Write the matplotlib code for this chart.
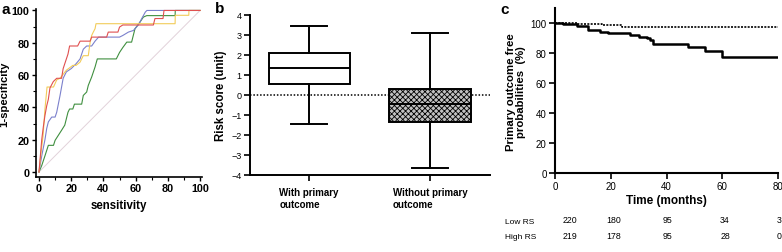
import matplotlib
matplotlib.use('Agg')
import matplotlib.pyplot as plt
from matplotlib.transforms import blended_transform_factory

plt.rcParams['font.family'] = ['Liberation Sans', 'DejaVu Sans']
plt.rcParams['hatch.linewidth'] = 0.6

# --- panel a: ROC curves (x = sensitivity, y = 1-specificity)
red_x = [0, 1.7, 2.7, 3.7, 4.8, 5.8, 6.8, 8.9, 11, 14, 15, 16, 18, 19, 24, 25.5, 31.7, 32.7, 42, 43, 49, 50, 52, 71, 72, 77, 77.6, 100]
red_y = [0, 20, 28, 35, 41, 45, 52, 56, 58, 58, 64, 67, 73, 78, 78, 81, 81, 83.5, 83.5, 86.6, 86.6, 89.7, 91, 91, 95, 95, 100, 100]
yel_x = [0, 1.5, 2.5, 3.7, 5, 9, 11, 13, 17, 21, 23, 25.5, 27.5, 30.6, 31.7, 32.7, 33.7, 34.8, 35.4, 84.5, 84.6, 93, 93.1, 100]
yel_y = [0, 14, 22, 39, 52.6, 52.6, 57, 58, 63, 66, 66, 68, 72, 72, 80, 84.5, 86.6, 88.7, 91.8, 91.8, 97, 97, 100, 100]
blu_x = [0, 1.7, 3.7, 4.8, 5.8, 7.9, 10, 11, 13, 15, 17, 20, 23, 25.5, 27.5, 29.6, 32.7, 34.8, 37, 50, 52, 55.5, 58.6, 61.7, 63.8, 66, 67, 100]
blu_y = [0, 10, 20, 27, 31, 34, 34, 37, 47, 58, 62, 64, 67, 70, 76, 78, 78, 81, 83.5, 83.5, 84.5, 86.6, 87.6, 91, 95, 99, 100, 100]
grn_x = [0, 1.7, 3.7, 5.8, 9, 10, 12, 14, 16, 18, 19, 21, 22, 26.5, 27.5, 29.6, 30.6, 32.7, 34.8, 36.2, 48, 50, 52, 54.5, 57.5, 59.6, 62.7, 64.8, 66.9, 84.5, 84.6, 100]
grn_y = [0, 4, 10, 16.5, 16.5, 19.6, 22.7, 25.8, 29, 37, 39, 39, 42, 42, 47.4, 49.5, 53.6, 58.8, 65, 70, 70, 74, 77, 80.4, 80.4, 88.7, 92.8, 95.9, 96.8, 96.8, 100, 100]

# --- panel b: box plot stats
groups = ['With primary\noutcome', 'Without primary\noutcome']
whislo = [-1.45, -3.67]
q1 = [0.53, -1.37]
med = [1.35, -0.45]
q3 = [2.08, 0.28]
whishi = [3.42, 3.07]

# --- panel c: Kaplan-Meier
low_t = [0, 8, 16.7, 23.9, 80]
low_s = [100, 99.5, 98.8, 97.3, 97.3]
high_t = [0, 3, 7.8, 12, 16, 19, 23, 27, 30, 33, 34, 35.2, 47.8, 53.8, 59.8, 80]
high_s = [100, 99.3, 98.2, 95.5, 94.4, 93.8, 93.3, 92.2, 91.1, 90, 88.9, 86, 84, 81.6, 77.2, 77.2]
risk_times = [5.4, 21.1, 40.5, 61, 79.6]
low_risk = ['220', '180', '95', '34', '3']
high_risk = ['219', '178', '95', '28', '0']

W, H = 782, 253
fig = plt.figure(figsize=(W / 100, H / 100), dpi=100)


def box(l, r, t, b):
    return [l / W, 1 - b / H, (r - l) / W, (b - t) / H]


# ---------------- a
ax = fig.add_axes(box(36, 202, 10, 178))
ax.plot([0, 100], [0, 100], color='#e2d2da', lw=0.7)
ax.plot(grn_x, grn_y, color='#3f8f3f', lw=0.8)
ax.plot(blu_x, blu_y, color='#7b80cc', lw=0.8)
ax.plot(yel_x, yel_y, color='#f2cc5a', lw=0.8)
ax.plot(red_x, red_y, color='#e05050', lw=0.8)
ax.set_xlim(-1.86, 101.2)
ax.set_ylim(-3.1, 100.9)
ax.set_xticks(range(0, 101, 20))
ax.set_yticks(range(0, 101, 20))
ax.set_xticks(range(0, 101, 10), minor=True)
ax.set_yticks(range(0, 101, 10), minor=True)
for s in ['top', 'right']:
    ax.spines[s].set_visible(False)
for s in ['left', 'bottom']:
    ax.spines[s].set_linewidth(1.2)
ax.tick_params(labelsize=7.8, length=3, width=1, pad=1.5)
ax.tick_params(which='minor', length=2, width=0.8)
for lab in ax.get_xticklabels() + ax.get_yticklabels():
    lab.set_fontweight('bold')
ax.set_xlabel('sensitivity', fontsize=8.3, fontweight='bold', labelpad=4)
ax.set_ylabel('1-specificity', fontsize=8.1, fontweight='bold')
ax.yaxis.set_label_coords(-27 / 166, 0.5)
fig.text(2 / W, 1 - 10 / H, 'a', fontsize=11, fontweight='bold', va='center')

# ---------------- b
bx = fig.add_axes(box(250, 490, 15.7, 175.7))
stats = []
for i in range(2):
    stats.append(dict(whislo=whislo[i], q1=q1[i], med=med[i], q3=q3[i], whishi=whishi[i], fliers=[]))
bp = bx.bxp(stats, positions=[1, 2], widths=0.67, patch_artist=True, showfliers=False,
            boxprops=dict(linewidth=1.4, edgecolor='black'),
            medianprops=dict(color='black', linewidth=1.4),
            whiskerprops=dict(linewidth=1.4), capprops=dict(linewidth=1.4),
            capwidths=0.29)
bp['boxes'][0].set_facecolor('white')
bp['boxes'][1].set_facecolor('#c0c0c0')
bp['boxes'][1].set_hatch('xxxxxx')
bx.axhline(0, color='black', ls=(0, (1, 1.2)), lw=1.1, zorder=0)
bx.set_xlim(0.512, 2.496)
bx.set_ylim(-4, 4)
bx.set_yticks(range(-4, 5))
bx.set_xticks([1, 2])
bx.set_xticklabels(groups, fontsize=7, fontweight='bold', multialignment='left')
for s in ['top', 'right']:
    bx.spines[s].set_visible(False)
for s in ['left', 'bottom']:
    bx.spines[s].set_linewidth(1.4)
bx.tick_params(axis='y', labelsize=6.5, length=4, width=1.2, pad=2)
bx.tick_params(axis='x', length=4, width=1.2, pad=5)
bx.set_ylabel('Risk score (unit)', fontsize=8.3, fontweight='bold', labelpad=3)
fig.text(215 / W, 1 - 9 / H, 'b', fontsize=11, fontweight='bold', va='center')

# ---------------- c
cx = fig.add_axes(box(555, 778, 9.3, 174))
cx.step(low_t, low_s, where='post', color='black', lw=1.2, ls=(0, (1.2, 0.8)))
cx.step(high_t, high_s, where='post', color='black', lw=1.8)
cx.set_xlim(0, 80)
cx.set_ylim(0, 110)
cx.set_xticks(range(0, 81, 20))
cx.set_yticks(range(0, 101, 20))
for s in ['top', 'right']:
    cx.spines[s].set_visible(False)
for s in ['left', 'bottom']:
    cx.spines[s].set_linewidth(1.5)
cx.tick_params(labelsize=7, length=4, width=1.2, pad=2)
cx.set_xlabel('Time (months)', fontsize=8.5, fontweight='bold', labelpad=2)
cx.set_ylabel('Primary outcome free\nprobabilities  (%)', fontsize=8.2, fontweight='bold',
              labelpad=3, linespacing=1.0)
fig.text(500 / W, 1 - 10 / H, 'c', fontsize=11, fontweight='bold', va='center')

tr = blended_transform_factory(cx.transData, fig.transFigure)
fig.text(505 / W, 1 - 222 / H, 'Low RS', fontsize=6, va='center')
fig.text(505 / W, 1 - 238 / H, 'High RS', fontsize=6, va='center')
for t, lo, hi in zip(risk_times, low_risk, high_risk):
    ha = 'left' if t > 79 else 'center'
    cx.text(t, 1 - 221 / H, lo, transform=tr, fontsize=6.3, ha=ha, va='center', clip_on=False)
    cx.text(t, 1 - 237 / H, hi, transform=tr, fontsize=6.3, ha=ha, va='center', clip_on=False)

fig.savefig('out.png', dpi=100)
